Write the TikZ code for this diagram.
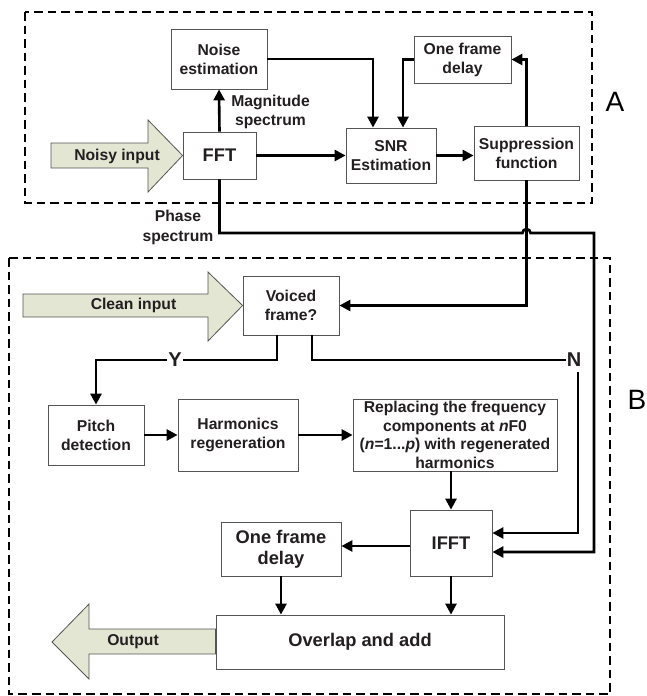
\documentclass[tikz,border=0pt]{standalone}
\usepackage{fontspec}
\setmainfont{Liberation Sans}
\usetikzlibrary{arrows.meta,positioning,calc}
\definecolor{arrowfill}{RGB}{226,230,211}
\definecolor{boxline}{RGB}{85,85,85}
\definecolor{txt}{RGB}{35,31,32}

\begin{document}
\begin{tikzpicture}[x=1pt, y=-1pt, >={Triangle[length=11pt,width=11pt]},
  every node/.style={font=\fontsize{15.7}{19}\selectfont\bfseries, text=txt},
  box/.style={draw=boxline, line width=0.8pt, fill=white, align=center, inner sep=1pt},
  bigfont/.style={font=\fontsize{18.3}{21}\selectfont\bfseries},
  conn/.style={line width=2.6pt},
  region/.style={dash pattern=on 8.5pt off 5pt, line width=1.3pt},
  bigarrow/.style={draw=boxline, line width=0.8pt, fill=arrowfill},
  branch/.style={font=\fontsize{20}{20}\selectfont\bfseries, fill=white, inner sep=1pt}]
  \useasboundingbox (0,0) rectangle (647,696);

  % part A and part B
  \draw[region] (25,12) rectangle (592,203);
  \draw[region] (9,258) rectangle (610,694);
  \node[font=\fontsize{28}{28}\selectfont, text=black] (labA) at (615,102) {A};
  \node[font=\fontsize{28}{28}\selectfont, text=black] (labB) at (637,400) {B};

  % blocks of A
  \node[box, minimum width=96pt, minimum height=60pt] (noise) at (219,59) {Noise\\estimation};
  \node[box, minimum width=97pt, minimum height=47pt] (delayA) at (462.5,59.5) {One frame\\delay};
  \node[box, bigfont, minimum width=73pt, minimum height=47pt] (fft) at (219.5,155.5) {FFT};
  \node[box, minimum width=90pt, minimum height=55pt] (snr) at (391,155.5) {SNR\\Estimation};
  \node[box, minimum width=105pt, minimum height=54pt] (supp) at (526.5,153) {Suppression\\function};
  \node[align=center] (mag) at (270.5,112) {Magnitude\\spectrum};
  \node[align=center, font=\fontsize{15.7}{20}\selectfont\bfseries] (phase) at (178,227) {Phase\\spectrum};

  % blocks of B
  \node[box, minimum width=96pt, minimum height=59pt] (voiced) at (291,305.5) {Voiced\\frame?};
  \node[box, minimum width=96pt, minimum height=60pt] (pitch) at (96,435) {Pitch\\detection};
  \node[box, minimum width=120pt, minimum height=72pt] (harm) at (238,435) {Harmonics\\regeneration};
  \node[box, inner sep=0pt, font=\fontsize{15.7}{18.5}\selectfont\bfseries, minimum width=204pt, minimum height=72pt] (repl) at (455,435)
    {Replacing the frequency\\components at \textit{n}F0\\(\textit{n}=1...\textit{p}) with regenerated\\harmonics};
  \node[box, bigfont, minimum width=82pt, minimum height=66pt] (ifft) at (451,543) {IFFT};
  \node[box, bigfont, minimum width=120pt, minimum height=54pt] (delayB) at (281,549) {One frame\\delay};
  \node[box, bigfont, minimum width=288pt, minimum height=54pt] (overlap) at (360,642) {Overlap and add};

  % big arrows
  \draw[bigarrow] (51,143) -- (148,143) -- (148,120) -- (fft.west) -- (148,192) -- (148,168) -- (51,168) -- cycle;
  \node (noisy) at (117,156) {Noisy input};
  \draw[bigarrow] (23,294) -- (208,294) -- (208,272) -- (voiced.west) -- (208,341) -- (208,317) -- (23,317) -- cycle;
  \node (clean) at (133.5,305.5) {Clean input};
  \draw[bigarrow] (52,642) -- (89,604) -- (89,629) -- (overlap.west |- 0,629) -- (overlap.west |- 0,654) -- (89,654) -- (89,679) -- cycle;
  \node (output) at (133,642) {Output};

  % connectors in A
  \draw[conn,->] (fft.north) -- (noise.south);
  \draw[conn,->] (noise.east) -| ([xshift=-18pt]snr.north);
  \draw[conn,->] (delayA.west) -| ([xshift=12pt]snr.north);
  \draw[conn,->] (fft.east) -- (snr.west);
  \draw[conn,->] (snr.east) -- (snr.east -| supp.west);
  \draw[conn,->] (supp.north) |- (delayA.east);
  \draw[conn,->] (supp.south) |- (voiced.east);

  % phase spectrum line, hopping over the suppression output
  \coordinate (phasecorner) at (594,233);
  \draw[conn,->] (fft.south) |- (522.5,233) arc[start angle=180, end angle=360, radius=4] -- (phasecorner) |- ([yshift=-9pt]ifft.east);

  % connectors in B
  \node[branch] (yes) at (175,360) {Y};
  \node[branch] (no) at (574,360) {N};
  \draw[conn] ([xshift=-14pt]voiced.south) |- (yes.east);
  \draw[conn,->] (yes.west) -| (pitch.north);
  \draw[conn] ([xshift=21pt]voiced.south) |- (no.west);
  \draw[conn,->] ([xshift=4pt,yshift=-4pt]no.south) |- ([yshift=10pt]ifft.east);
  \draw[conn,->] (pitch.east) -- (harm.west);
  \draw[conn,->] (harm.east) -- (repl.west);
  \draw[conn,->] (ifft.north |- repl.south) -- (ifft.north);
  \draw[conn,->] ([yshift=-3pt]ifft.west) -- ([yshift=-3pt]ifft.west -| delayB.east);
  \draw[conn,->] (delayB.south) -- (delayB.south |- overlap.north);
  \draw[conn,->] (ifft.south) -- (ifft.south |- overlap.north);
\end{tikzpicture}
\end{document}
